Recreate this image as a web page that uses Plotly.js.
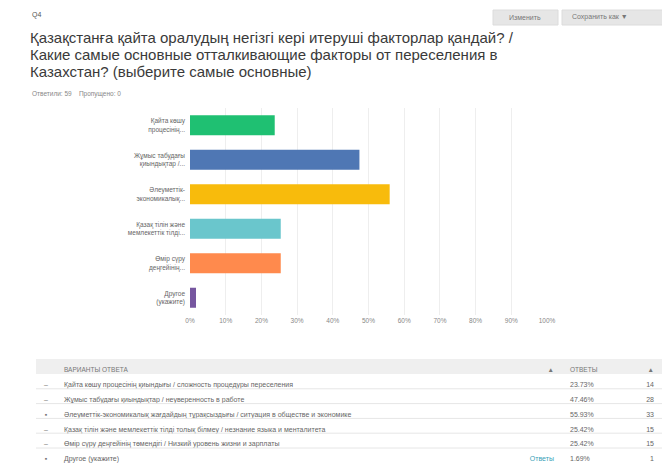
<!DOCTYPE html>
<html>
<head>
<meta charset="utf-8">
<script src="https://cdn.plot.ly/plotly-3.0.1.min.js"></script>
<style>html,body{margin:0;padding:0;background:#fff;}#chart{width:662px;height:463px;}</style>
</head>
<body>
<div id="chart"></div>
<script>
// ---- data ----
const categories = [
  "Қайта көшу<br>процесінің...",
  "Жұмыс табудағы<br>қиындықтар /...",
  "Әлеуметтік-<br>экономикалық...",
  "Қазақ тілін және<br>мемлекеттік тілді...",
  "Өмір сүру<br>деңгейінің...",
  "Другое<br>(укажите)"
];
const answerTexts = [
  "Қайта көшу процесінің қиындығы / сложность процедуры переселения",
  "Жұмыс табудағы қиындықтар / неуверенность в работе",
  "Әлеуметтік-экономикалық жағдайдың тұрақсыздығы / ситуация в обществе и экономике",
  "Қазақ тілін және мемлекеттік тілді толық білмеу / незнание языка и менталитета",
  "Өмір сүру деңгейінің төмендігі / Низкий уровень жизни и зарплаты",
  "Другое (укажите)"
];
const rowMarkers = ["–", "–", "▪", "–", "–", "▪"];
const rowLinks = ["", "", "", "", "", "Ответы"];
const percents = [0.2373, 0.4746, 0.5593, 0.2542, 0.2542, 0.0169];
const counts = [14, 28, 33, 15, 15, 1];
const barColors = ["#1fc072", "#4f77b4", "#f8bb0c", "#6ac6cc", "#ff8a4d", "#76569f"];
const xTickVals = [0, 0.1, 0.2, 0.3, 0.4, 0.5, 0.6, 0.7, 0.8, 0.9, 1.0];
const xTickText = ["0%", "10%", "20%", "30%", "40%", "50%", "60%", "70%", "80%", "90%", "100%"];
const headerLabels = ["", "ВАРИАНТЫ ОТВЕТА", "▲", "ОТВЕТЫ", "▲"];
const questionNo = "Q4";
const titleLines = [
  "Қазақстанға қайта оралудың негізгі кері итеруші факторлар қандай? /",
  "Какие самые основные отталкивающие факторы от переселения в",
  "Казахстан? (выберите самые основные)"
];
const statsText = "Ответили: 59&nbsp;&nbsp;&nbsp;&nbsp;Пропущено: 0";
const buttonLabels = ["Изменить", "Сохранить как ▼"];

// ---- page geometry helpers ----
const W = 662, H = 463;
const px = x => x / W;
const py = y => 1 - y / H;

const barTrace = {
  type: "bar",
  orientation: "h",
  y: categories,
  x: percents,
  marker: { color: barColors },
  hoverinfo: "none",
  showlegend: false
};

const headH = 15, rowH = 14.8, tableTop = 359;
const pctText = percents.map(p => (p * 100).toFixed(2) + "%");
const tableTrace = {
  type: "table",
  domain: { x: [px(36), 1], y: [0, py(tableTop)] },
  columnwidth: [20, 439, 67, 62, 38],
  header: {
    values: headerLabels,
    align: ["center", "left", "right", "left", "right"],
    height: headH,
    fill: { color: "#efefef" },
    line: { color: "#efefef", width: 0 },
    font: { family: "Liberation Sans, Arial, sans-serif", size: 6.5, color: "#777" }
  },
  cells: {
    values: [rowMarkers, answerTexts, rowLinks, pctText, counts],
    align: ["center", "left", "right", "left", "right"],
    height: rowH,
    fill: { color: "rgba(255,255,255,0)" },
    line: { color: "rgba(255,255,255,0)", width: 0 },
    font: {
      family: "Liberation Sans, Arial, sans-serif",
      size: 7,
      color: [["#777"], ["#666"], ["#3a9fb8"], ["#666"], ["#666"]]
    }
  }
};

const shapes = [];
// button backgrounds
shapes.push({ type: "rect", xref: "paper", yref: "paper", x0: px(493), x1: px(558), y0: py(25), y1: py(10),
  fillcolor: "#e6e6e6", line: { color: "#dcdcdc", width: 1 }, layer: "below" });
shapes.push({ type: "rect", xref: "paper", yref: "paper", x0: px(562), x1: px(665), y0: py(25), y1: py(10),
  fillcolor: "#e6e6e6", line: { color: "#dcdcdc", width: 1 }, layer: "below" });
// row separators in table
for (let i = 1; i < answerTexts.length; i++) {
  const y = tableTop + headH + i * rowH;
  shapes.push({ type: "line", xref: "paper", yref: "paper", x0: px(36), x1: 1, y0: py(y), y1: py(y),
    line: { color: "#e6e6e6", width: 1 }, layer: "above" });
}

const titleY = [37, 54, 71];
const annotations = [
  { text: questionNo, xref: "paper", yref: "paper", x: px(30), y: py(15), xanchor: "left", yanchor: "middle",
    showarrow: false, font: { size: 7, color: "#555" } },
  { text: statsText, xref: "paper", yref: "paper", x: px(30), y: py(94), xanchor: "left", yanchor: "middle",
    showarrow: false, font: { size: 6.5, color: "#888" } },
  { text: buttonLabels[0], xref: "paper", yref: "paper", x: px(525), y: py(17.5), xanchor: "center", yanchor: "middle",
    showarrow: false, font: { size: 7, color: "#777" } },
  { text: buttonLabels[1], xref: "paper", yref: "paper", x: px(570), y: py(17.5), xanchor: "left", yanchor: "middle",
    showarrow: false, font: { size: 7, color: "#777" } }
];
titleLines.forEach((t, i) => annotations.push({
  text: t, xref: "paper", yref: "paper", x: px(28), y: py(titleY[i]), xanchor: "left", yanchor: "middle",
  showarrow: false, font: { size: 15, color: "#3a3a3a" }
}));

const layout = {
  width: W, height: H,
  margin: { l: 0, r: 0, t: 0, b: 0 },
  paper_bgcolor: "#ffffff",
  plot_bgcolor: "#ffffff",
  font: { family: "Liberation Sans, Arial, sans-serif", color: "#555" },
  bargap: 0.42,
  xaxis: {
    domain: [px(190), px(547)],
    range: [0, 1],
    tickvals: xTickVals,
    ticktext: xTickText,
    showgrid: true,
    gridcolor: "#eeeeee",
    gridwidth: 1,
    zeroline: false,
    showline: false,
    ticks: "",
    tickfont: { size: 6.5, color: "#888" },
    fixedrange: true
  },
  yaxis: {
    domain: [py(315), py(108)],
    autorange: "reversed",
    showgrid: false,
    zeroline: false,
    showline: false,
    ticks: "",
    ticklabelstandoff: 4,
    tickfont: { size: 6.5, color: "#666" },
    fixedrange: true
  },
  shapes: shapes,
  annotations: annotations
};

Plotly.newPlot("chart", [barTrace, tableTrace], layout, { displayModeBar: false, staticPlot: true });
</script>
</body>
</html>
